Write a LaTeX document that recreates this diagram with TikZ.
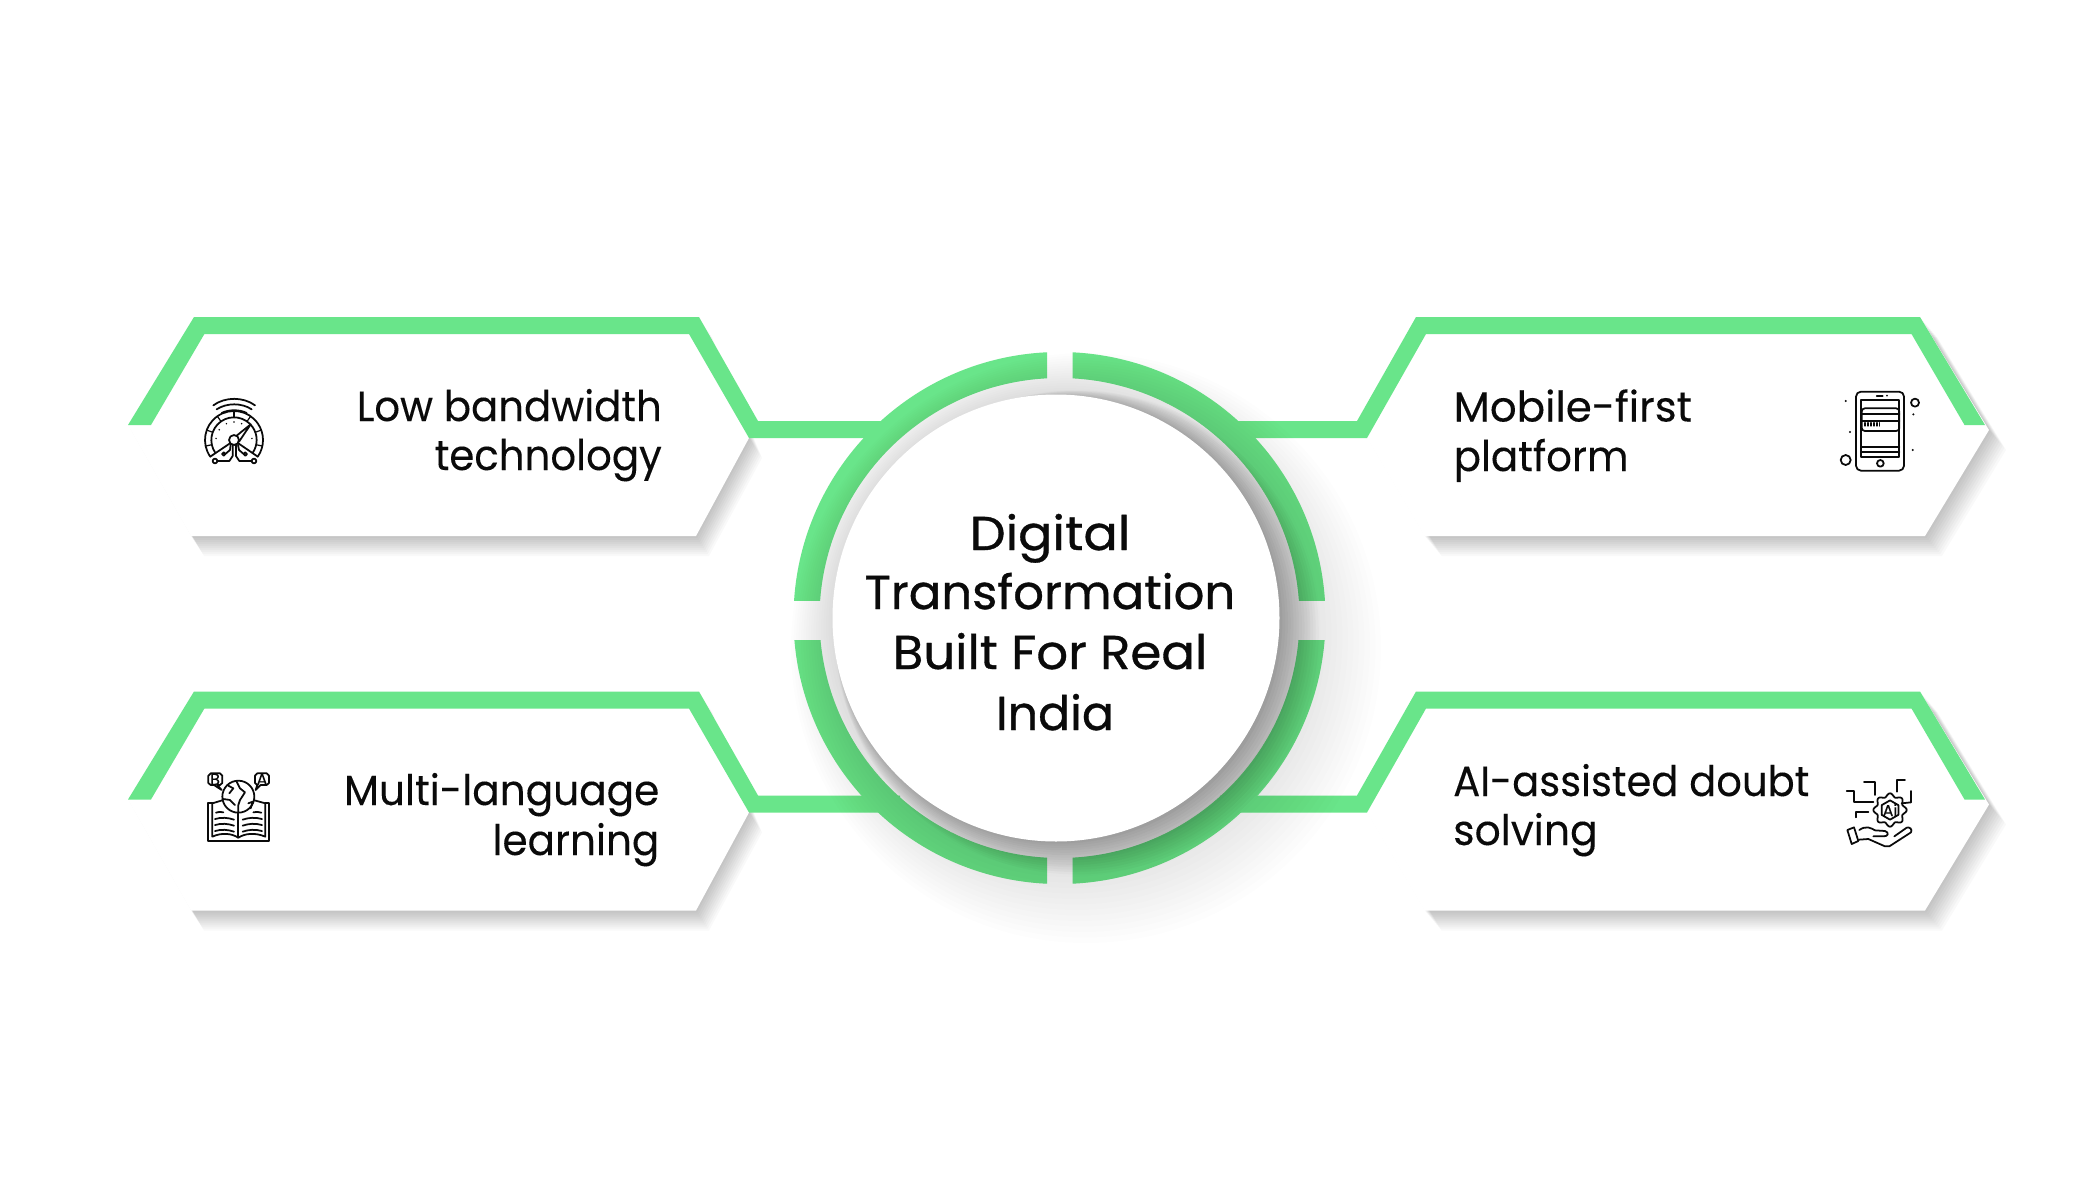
\documentclass[tikz,border=0pt]{standalone}
\usepackage{graphicx}
\usepackage{fontspec}
\setmainfont[FakeBold=0.15]{Poppins}
\newfontfamily\headfont[FakeBold=0.7]{Poppins}
\definecolor{leaf}{HTML}{69E58A}
\definecolor{ink}{HTML}{0A0A0A}
\newcommand\panelLout{(128,425)--(194,317)--(699,317)--(749,438)--(696,536)--(191,536)--cycle}
\newcommand\panelRout{(1367,438)--(1416,317)--(1920,317)--(1989,430)--(1925,536)--(1424.5,536)--cycle}
\newcommand\bandL{(128,425)--(194,317)--(699,317)--(758,421)--(900,421)--(900,438)--(749,438)--(689,334)--(204.4,334)--(151,425)--cycle}
\newcommand\bandR{(1985,425)--(1920,317)--(1416,317)--(1357,421)--(1220,421)--(1220,438)--(1367,438)--(1426,334)--(1911.5,334)--(1964.5,425)--cycle}
\newcommand\drawpanelL{%
  \foreach \k in {1,...,10}{\fill[black,opacity=.022,shift={(\k*1.3,\k*2)}] \panelLout;}
  \fill[white] \panelLout;
  \fill[leaf] \bandL;}
\newcommand\drawpanelR{%
  \foreach \k in {1,...,10}{\fill[black,opacity=.022,shift={(\k*1.7,\k*2)}] \panelRout;}
  \fill[white] \panelRout;
  \fill[leaf] \bandR;}
\tikzset{
  panel text/.style={text=ink,font=\fontsize{12pt}{14.08pt}\selectfont,inner sep=0pt},
  head text/.style={text=ink,font=\headfont\fontsize{13.5pt}{16.9pt}\selectfont,inner sep=0pt,align=center},
  icon/.style={line width=.5pt,draw=ink,line cap=round,line join=round},
  icon fine/.style={line width=.35pt,draw=ink,line cap=round,line join=round},
}
\begin{document}
\begin{tikzpicture}[x=0.01cm,y=-0.01cm]
\useasboundingbox (0,0) rectangle (2100,1200);
\fill[white] (0,0) rectangle (2100,1200);
% panels
\drawpanelL
\drawpanelR
\begin{scope}[shift={(0,374.5)}]
\drawpanelL
\drawpanelR
\end{scope}
% ring
\foreach \xa/\ya/\xb/\yb in {780/340/1047/600,1072.5/340/1340/600,780/640/1047/900,1072.5/640/1340/900}{
  \begin{scope}
    \clip (\xa,\ya) rectangle (\xb,\yb);
    \fill[leaf,even odd rule] (1059.5,618) circle[radius=266] (1059.5,618) circle[radius=240];
  \end{scope}}
% shadow of the disc
\foreach \k in {1,...,20}{\fill[black,opacity=.008] ({1056+\k*1.5},{618+\k*1.5}) circle[radius={215+\k*4}];}
\foreach \k in {1,...,16}{\fill[black,opacity=.02] ({1056+\k*1.3},{618+\k*0.9}) circle[radius={218+\k*1.5}];}
\fill[white] (1056,618) circle[radius=223.5];
% texts
\node[head text,anchor=base] (centre1) at (1050,550) {\scalebox{1.07}[1]{Digital}};
\node[head text,anchor=base] (centre2) at (1050,609) {\scalebox{1.015}[1]{Transformation}};
\node[head text,anchor=base] (centre3) at (1050,669) {\scalebox{1.05}[1]{Built For Real}};
\node[head text,anchor=base] (centre4) at (1055,730) {India};
\node[panel text,anchor=base east] (t1a) at (662.5,421) {\scalebox{.954}[1]{Low bandwidth}};
\node[panel text,anchor=base east] (t1b) at (662.5,470) {\scalebox{.955}[1]{technology}};
\node[panel text,anchor=base east] (t2a) at (660,805) {\scalebox{.963}[1]{Multi-language}};
\node[panel text,anchor=base east] (t2b) at (660,855) {\scalebox{.96}[1]{learning}};
\node[panel text,anchor=base west] (t3a) at (1453,421.5) {\scalebox{.995}[1]{Mobile-first}};
\node[panel text,anchor=base west] (t3b) at (1453,471) {\scalebox{.956}[1]{platform}};
\node[panel text,anchor=base west] (t4a) at (1452.5,796) {\scalebox{.95}[1]{AI-assisted doubt}};
\node[panel text,anchor=base west] (t4b) at (1452.5,845) {\scalebox{.97}[1]{solving}};
% gauge icon
\begin{scope}[shift={(180,380)},x=0.01cm/3,y=-0.01cm/3]
  \draw[icon] (162,180)++(145:87) arc[start angle=145,end angle=395,radius=87];
  \draw[icon] (162,180)++(145:68) arc[start angle=145,end angle=395,radius=68];
  \foreach \a in {168,200,235,270,305,340,372}{\draw[icon fine] (162,180)++(\a:68) -- ++(\a:19);}
  \draw[icon] (162,180)++(145:87) -- (150,190);
  \draw[icon] (162,180)++(35:87) -- (175,190);
  \foreach \a in {185,215,245,270,295,355}{\fill[ink] (162,180)++(\a:54) circle[radius=2.5];}
  \draw[icon] (162,180) circle[radius=15];
  \draw[icon] (170,167) -- (212,133) -- (177,185);
  \draw[icon] (100,76) .. controls (135,50) and (190,50) .. (225,76);
  \draw[icon] (110,88) .. controls (140,68) and (185,68) .. (215,88);
  \draw[icon] (125,99) .. controls (145,88) and (180,88) .. (200,99);
  \draw[icon] (162,99) -- (162,112);
  \draw[icon] (105,243) circle[radius=7];
  \draw[icon] (222,243) circle[radius=7];
  \draw[icon] (112,243) -- (148,243) -- (158,228) -- (158,196);
  \draw[icon] (215,243) -- (178,243) -- (168,228) -- (168,196);
  \draw[icon] (131,222) circle[radius=5];
  \draw[icon] (196,222) circle[radius=5];
  \draw[icon] (136,222) -- (150,210) -- (152,194);
  \draw[icon] (191,222) -- (177,210) -- (174,194);
\end{scope}
% book icon
\begin{scope}[shift={(190,755)},x=0.01cm/3,y=-0.01cm/3]
  \draw[icon] (67,145) -- (55,145) -- (55,258) -- (238,258) -- (238,145) -- (226,145);
  \draw[icon] (100,135) -- (67,145) -- (67,245) .. controls (95,232) and (125,235) .. (145,248) .. controls (165,235) and (195,232) .. (226,245) -- (226,145) -- (190,135);
  \draw[icon] (145,170) -- (145,248);
  \draw[icon] (78,173) .. controls (85,170) and (92,170) .. (100,172);
  \draw[icon] (75,192) .. controls (95,186) and (115,188) .. (132,194);
  \draw[icon] (75,210) .. controls (95,204) and (115,206) .. (132,212);
  \draw[icon] (75,228) .. controls (95,222) and (115,224) .. (132,230);
  \draw[icon] (190,172) .. controls (198,170) and (205,170) .. (214,173);
  \draw[icon] (158,194) .. controls (175,188) and (195,186) .. (216,192);
  \draw[icon] (158,212) .. controls (175,206) and (195,204) .. (216,210);
  \draw[icon] (158,230) .. controls (175,224) and (195,222) .. (216,228);
  \fill[white] (145,125) circle[radius=48];
  \draw[icon] (145,125) circle[radius=48];
  \draw[icon] (140,80) -- (150,100) -- (165,112) -- (150,135) -- (145,150) -- (145,172);
  \draw[icon] (115,92) -- (130,100) -- (118,115);
  \draw[icon] (100,132) -- (120,135) -- (135,150);
  \draw[icon] (175,145) -- (188,140) -- (182,160);
  \draw[icon] (62,55) -- (90,55) -- (97,62) -- (97,84) -- (90,90) -- (82,90) -- (95,105) -- (72,90) -- (62,90) -- (55,84) -- (55,62) -- cycle;
  \draw[icon] (202,55) -- (230,55) -- (237,62) -- (237,84) -- (230,90) -- (212,90) -- (197,105) -- (202,90) -- (195,84) -- (195,62) -- cycle;
  \node[inner sep=0pt,text=ink,font=\fontsize{4.6pt}{5pt}\selectfont] (bookB) at (75,73) {B};
  \node[inner sep=0pt,text=ink,font=\fontsize{4.6pt}{5pt}\selectfont] (bookA) at (216,73) {A};
\end{scope}
% phone icon
\begin{scope}[shift={(1820,380)},x=0.01cm/3,y=-0.01cm/3]
  \draw[icon,rounded corners=1.4pt] (108,35) rectangle (252,272);
  \draw[icon] (123,60) rectangle (238,232);
  \draw[icon] (181,250) circle[radius=10];
  \draw[icon] (170,47) -- (188,47);
  \fill[ink] (201,47) circle[radius=3];
  \draw[icon,rounded corners=.9pt] (125,85) rectangle (238,153);
  \draw[icon] (125,103) -- (238,103);
  \draw[icon] (125,122) -- (238,122);
  \foreach \x in {135,144,153,162,171,178}{\draw[icon fine] (\x,128) -- (\x,138);}
  \draw[icon] (123,200) -- (238,200);
  \draw[icon] (123,215) -- (238,215);
  \draw[icon] (285,68) circle[radius=12];
  \draw[icon] (77,240) circle[radius=15];
  \foreach \p in {(77,63),(280,103),(90,156),(278,210)}{\fill[ink] \p circle[radius=3.5];}
\end{scope}
% AI icon
\begin{scope}[shift={(1830,765)},x=0.01cm/3,y=-0.01cm/3]
  \draw[icon] (102,52) -- (135,52) -- (135,90);
  \draw[icon] (50,77) -- (72,77) -- (72,110) -- (130,110);
  \draw[icon] (78,157) -- (78,140) -- (115,140);
  \draw[icon] (200,80) -- (200,45) -- (225,45);
  \draw[icon] (243,78) -- (243,112) -- (215,115);
  \begin{scope}[shift={(180,135)}]
    \draw[icon] plot[domain=0:360,samples=97,smooth] (\x:{45+5*cos(8*\x)}) -- cycle;
    \draw[icon] (30:29) -- (90:29) -- (150:29) -- (210:29) -- (270:29) -- (330:29) -- cycle;
    \node[inner sep=0pt,text=ink,font=\fontsize{4.5pt}{5pt}\selectfont] (gearAi) at (0,0) {Ai};
  \end{scope}
  \draw[icon] (52,195) -- (72,187) -- (85,228) -- (65,237) -- cycle;
  \draw[icon] (88,195) .. controls (108,180) and (125,190) .. (135,196) -- (165,198) .. controls (178,202) and (175,215) .. (160,214) -- (130,214);
  \draw[icon] (87,224) -- (115,222) -- (165,244) -- (178,244) -- (243,202) .. controls (248,192) and (238,185) .. (230,188) -- (193,214);
\end{scope}
\end{tikzpicture}
\end{document}
